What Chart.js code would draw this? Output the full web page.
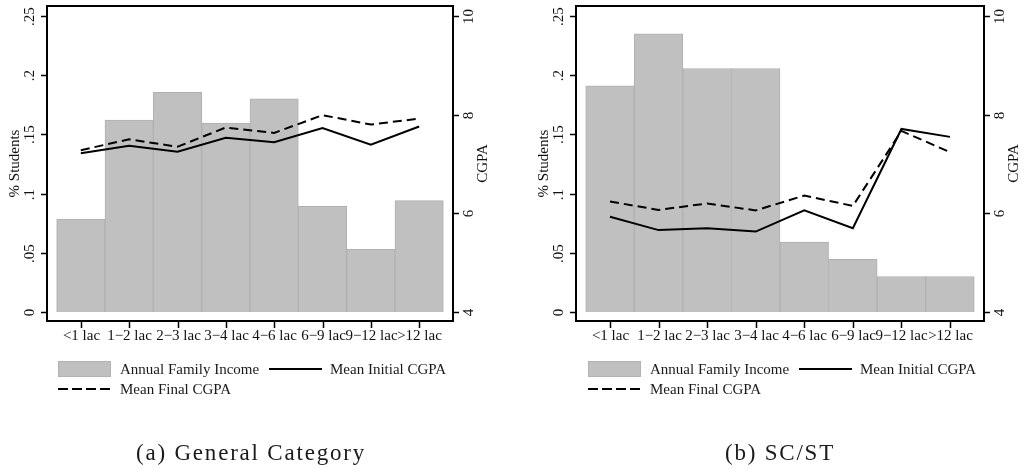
<!DOCTYPE html>
<html>
<head>
<meta charset="utf-8">
<script src="https://cdn.jsdelivr.net/npm/chart.js@4"></script>
<style>
  body { margin: 0; background: #fff; }
  #wrap { position: relative; width: 1024px; height: 469px; overflow: hidden; font-family: "Liberation Serif", serif; color: #1a1a1a; }
  .panel { position: absolute; top: 0; width: 512px; height: 469px; }
  .lg { position: absolute; font-size: 15px; line-height: 18px; white-space: nowrap; }
  .box { position: absolute; height: 16px; width: 53px; background: #c0c0c0; box-sizing: border-box; border: 1px solid #b2b2b2; }
  .solid { position: absolute; width: 53px; height: 2px; background: #000; }
  .dash { position: absolute; width: 53px; height: 2px; background: repeating-linear-gradient(90deg, #000 0 10px, transparent 10px 14px); }
  .cap { position: absolute; top: 440px; font-size: 23px; line-height: 26px; letter-spacing: 1.8px; white-space: nowrap; transform: translateX(-50%); }
</style>
</head>
<body>
<div id="wrap">
  <div class="panel" style="left:0"><canvas id="chartA"></canvas></div>
  <div class="panel" style="left:512px"><canvas id="chartB"></canvas></div>

  <div class="box" style="left:58px;top:361px"></div>
  <div class="lg" style="left:120px;top:360px">Annual Family Income</div>
  <div class="solid" style="left:269px;top:368px"></div>
  <div class="lg" style="left:330px;top:360px">Mean Initial CGPA</div>
  <div class="dash" style="left:58px;top:388px"></div>
  <div class="lg" style="left:120px;top:380px">Mean Final CGPA</div>

  <div class="box" style="left:588px;top:361px"></div>
  <div class="lg" style="left:650px;top:360px">Annual Family Income</div>
  <div class="solid" style="left:799px;top:368px"></div>
  <div class="lg" style="left:860px;top:360px">Mean Initial CGPA</div>
  <div class="dash" style="left:588px;top:388px"></div>
  <div class="lg" style="left:650px;top:380px">Mean Final CGPA</div>

  <div class="cap" style="left:251px">(a) General Category</div>
  <div class="cap" style="left:780px">(b) SC/ST</div>
</div>
<script>
// income brackets
const categories = ["<1 lac", "1\u22122 lac", "2\u22123 lac", "3\u22124 lac", "4\u22126 lac", "6\u22129 lac", "9\u221212 lac", ">12 lac"];

// (a) General Category
const generalShare = [0.0785, 0.162, 0.1855, 0.1596, 0.180, 0.0892, 0.053, 0.094];
const generalInitial = [7.22, 7.37, 7.25, 7.53, 7.44, 7.73, 7.39, 7.76];
const generalFinal = [7.28, 7.50, 7.35, 7.74, 7.63, 7.99, 7.80, 7.92];

// (b) SC/ST
const scstShare = [0.191, 0.235, 0.2056, 0.2056, 0.059, 0.0445, 0.030, 0.030];
const scstInitial = [5.93, 5.66, 5.70, 5.63, 6.06, 5.70, 7.71, 7.55];
const scstFinal = [6.24, 6.07, 6.20, 6.06, 6.36, 6.15, 7.67, 7.24];

// axis ticks
const shareTicks = [0, 0.05, 0.1, 0.15, 0.2, 0.25];
const shareTickLabels = ["0", ".05", ".1", ".15", ".2", ".25"];
const cgpaTicks = [4, 6, 8, 10];

const FONT = '15px "Liberation Serif"';

function pts(arr) {
  return arr.map((v, i) => ({ x: i, y: v }));
}

// frame, ticks and axis labels drawn Stata-style
const stataAxes = {
  id: 'stataAxes',
  afterDraw(chart) {
    const ctx = chart.ctx;
    const a = chart.chartArea;
    const sx = chart.scales.x, sy = chart.scales.y, sy2 = chart.scales.y2;
    ctx.save();
    ctx.strokeStyle = '#000';
    ctx.lineWidth = 2;
    ctx.strokeRect(a.left, a.top, a.right - a.left, a.bottom - a.top);

    ctx.lineWidth = 1.5;
    ctx.fillStyle = '#111';
    ctx.font = FONT;
    ctx.textAlign = 'center';
    ctx.textBaseline = 'middle';

    // x ticks
    categories.forEach((c, i) => {
      const px = Math.round(sx.getPixelForValue(i)) + 0.5;
      ctx.beginPath();
      ctx.moveTo(px, a.bottom);
      ctx.lineTo(px, a.bottom + 7);
      ctx.stroke();
      ctx.fillText(c, px, a.bottom + 15);
    });

    // left ticks
    shareTicks.forEach((v, i) => {
      const py = Math.round(sy.getPixelForValue(v)) + 0.5;
      ctx.beginPath();
      ctx.moveTo(a.left - 6, py);
      ctx.lineTo(a.left, py);
      ctx.stroke();
      ctx.save();
      ctx.translate(a.left - 17, py);
      ctx.rotate(-Math.PI / 2);
      ctx.fillText(shareTickLabels[i], 0, 0);
      ctx.restore();
    });

    // right ticks
    cgpaTicks.forEach(v => {
      const py = Math.round(sy2.getPixelForValue(v)) + 0.5;
      ctx.beginPath();
      ctx.moveTo(a.right, py);
      ctx.lineTo(a.right + 6, py);
      ctx.stroke();
      ctx.save();
      ctx.translate(a.right + 16, py);
      ctx.rotate(-Math.PI / 2);
      ctx.fillText(String(v), 0, 0);
      ctx.restore();
    });

    // axis titles
    const midY = (a.top + a.bottom) / 2;
    ctx.save();
    ctx.translate(a.left - 32, midY);
    ctx.rotate(-Math.PI / 2);
    ctx.fillText('% Students', 0, 0);
    ctx.restore();
    ctx.save();
    ctx.translate(a.right + 30, midY);
    ctx.rotate(-Math.PI / 2);
    ctx.fillText('CGPA', 0, 0);
    ctx.restore();

    ctx.restore();
  }
};

function makeChart(id, share, initial, final, pad) {
  return new Chart(document.getElementById(id), {
    data: {
      datasets: [
        {
          type: 'line', label: 'Mean Initial CGPA', data: pts(initial), yAxisID: 'y2',
          borderColor: '#000', borderWidth: 2, pointRadius: 0, tension: 0, order: 1
        },
        {
          type: 'line', label: 'Mean Final CGPA', data: pts(final), yAxisID: 'y2',
          borderColor: '#000', borderWidth: 2, borderDash: [9, 5], pointRadius: 0, tension: 0, order: 2
        },
        {
          type: 'bar', label: 'Annual Family Income', data: pts(share), yAxisID: 'y',
          backgroundColor: '#c0c0c0', borderColor: '#b0b0b0', borderWidth: 1,
          barPercentage: 1, categoryPercentage: 1, order: 3
        }
      ]
    },
    options: {
      responsive: false,
      animation: false,
      layout: { padding: pad },
      plugins: { legend: { display: false }, tooltip: { enabled: false } },
      scales: {
        x: {
          type: 'linear', min: -0.7, max: 7.7, offset: false, display: false,
          afterBuildTicks: s => { s.ticks = categories.map((c, i) => ({ value: i })); }
        },
        y: { type: 'linear', min: -0.0076, max: 0.2584, display: false },
        y2: { type: 'linear', position: 'right', min: 3.8176, max: 10.2027, display: false }
      }
    },
    plugins: [stataAxes]
  });
}

document.getElementById('chartA').width = 512;
document.getElementById('chartA').height = 469;
document.getElementById('chartB').width = 512;
document.getElementById('chartB').height = 469;

makeChart('chartA', generalShare, generalInitial, generalFinal, { left: 47, right: 59, top: 6, bottom: 148 });
makeChart('chartB', scstShare, scstInitial, scstFinal, { left: 64, right: 40, top: 6, bottom: 148 });
</script>
</body>
</html>
